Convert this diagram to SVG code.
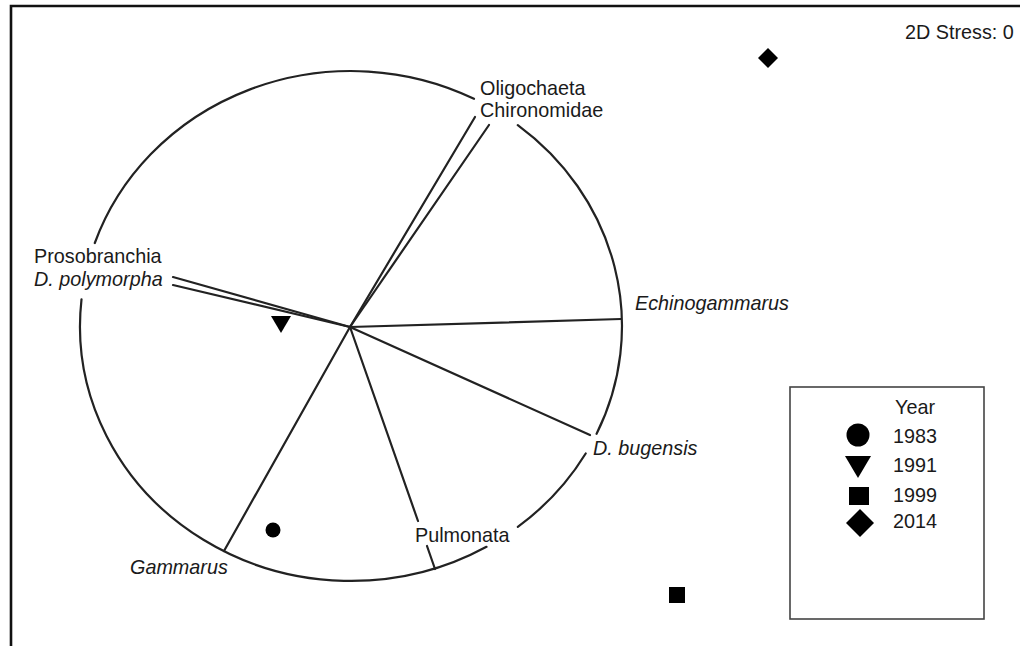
<svg xmlns="http://www.w3.org/2000/svg" width="1020" height="646" viewBox="0 0 1020 646">
<style>
text{font-family:"Liberation Sans",Arial,sans-serif;font-size:19.8px;fill:#1a1a1a}
.it{font-style:italic}
.ln{stroke:#222;stroke-width:2.2;fill:none;stroke-linecap:round}
.sym{fill:#000}
</style>
<rect width="1020" height="646" fill="#fff"/>
<path d="M11,646 V6 H1020" fill="none" stroke="#111" stroke-width="2.6"/>
<g id="ordination-circle">
<path class="ln" d="M517.8,125.1 A271,255 0 0 1 596.6,433.8"/>
<path class="ln" d="M585.7,453.5 A271,255 0 0 1 517.8,526.9"/>
<path class="ln" d="M486.5,546.8 A271,255 0 0 1 81.5,299.3"/>
<path class="ln" d="M94.8,243 A271,255 0 0 1 474,98.8"/>
</g>
<g id="connectors">
<line class="ln" x1="350" y1="327" x2="475" y2="117"/>
<line class="ln" x1="350" y1="327" x2="489" y2="125"/>
<line class="ln" x1="350" y1="327" x2="173" y2="277"/>
<line class="ln" x1="350" y1="327" x2="173" y2="285"/>
<line class="ln" x1="350" y1="327" x2="621" y2="319"/>
<line class="ln" x1="350" y1="327" x2="590" y2="435"/>
<line class="ln" x1="350" y1="327" x2="418" y2="521"/>
<line class="ln" x1="427" y1="546" x2="435" y2="569"/>
<line class="ln" x1="350" y1="327" x2="224" y2="551"/>
</g>
<g id="stress"><text x="905" y="39">2D Stress: 0</text></g>
<g id="oligochaeta"><text x="480" y="95">Oligochaeta</text></g>
<g id="chironomidae"><text x="480" y="117">Chironomidae</text></g>
<g id="prosobranchia"><text x="34" y="263">Prosobranchia</text></g>
<g id="d-polymorpha"><text class="it" x="34" y="286">D. polymorpha</text></g>
<g id="echinogammarus"><text class="it" x="635" y="310">Echinogammarus</text></g>
<g id="d-bugensis"><text class="it" x="593" y="455">D. bugensis</text></g>
<g id="pulmonata"><text x="415" y="542">Pulmonata</text></g>
<g id="gammarus"><text class="it" x="130" y="574">Gammarus</text></g>
<g id="points">
<polygon class="sym" points="768,48 778,58 768,68 758,58"/>
<polygon class="sym" points="271,316 291,316 281,333"/>
<circle class="sym" cx="273" cy="530" r="7.5"/>
<rect class="sym" x="669" y="587" width="16" height="16"/>
</g>
<g id="legend">
<rect x="790" y="387" width="194" height="232" fill="none" stroke="#444" stroke-width="1.6"/>
<text x="895" y="414">Year</text>
<circle class="sym" cx="858" cy="435" r="11.5"/>
<text x="893" y="443">1983</text>
<polygon class="sym" points="845,456 871,456 858,478"/>
<text x="893" y="472">1991</text>
<rect class="sym" x="849" y="487" width="20" height="18"/>
<text x="893" y="502">1999</text>
<polygon class="sym" points="860,509 874,523 860,537 846,523"/>
<text x="893" y="528">2014</text>
</g>
</svg>
